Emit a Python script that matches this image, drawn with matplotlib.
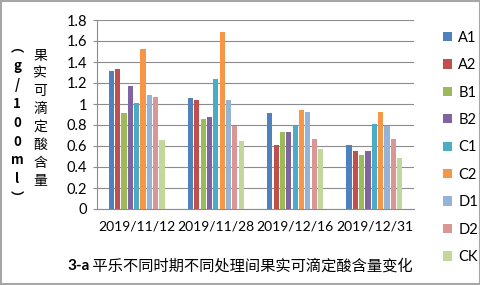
import matplotlib.pyplot as plt
import numpy as np
from matplotlib.patches import Rectangle

plt.rcParams['font.family'] = ['Lato', 'Noto Sans CJK SC', 'DejaVu Sans']

dates = ['2019/11/12', '2019/11/28', '2019/12/16', '2019/12/31']
treatments = ['A1', 'A2', 'B1', 'B2', 'C1', 'C2', 'D1', 'D2', 'CK']
colors = ['#4F81BD', '#C0504D', '#9BBB59', '#8064A2', '#4BACC6',
          '#F79646', '#95B3D7', '#D99694', '#C3D69B']

A1 = [1.31, 1.06, 0.91, 0.61]
A2 = [1.33, 1.04, 0.61, 0.55]
B1 = [0.91, 0.86, 0.73, 0.51]
B2 = [1.17, 0.88, 0.73, 0.55]
C1 = [1.01, 1.24, 0.79, 0.81]
C2 = [1.52, 1.69, 0.94, 0.92]
D1 = [1.09, 1.04, 0.92, 0.79]
D2 = [1.07, 0.79, 0.67, 0.67]
CK = [0.66, 0.65, 0.57, 0.49]
series = [A1, A2, B1, B2, C1, C2, D1, D2, CK]

fig = plt.figure(figsize=(4.81, 2.85), dpi=100)
ax = fig.add_axes([97 / 481, 1 - 209 / 285, 317 / 481, 189 / 285])

x = np.arange(len(dates))
step = 0.08
for i, (name, vals) in enumerate(zip(treatments, series)):
    ax.bar(x + (i - 4) * step, vals, width=step * 0.82, color=colors[i],
           label=name, zorder=3)

ax.set_ylim(0, 1.8)
ax.set_xlim(-0.5, 3.5)
ax.set_yticks(np.arange(0, 1.81, 0.2))
ax.set_yticklabels(['0', '0.2', '0.4', '0.6', '0.8', '1', '1.2', '1.4', '1.6', '1.8'])
ax.set_xticks(x)
ax.set_xticklabels(dates)
ax.yaxis.grid(True, color='#8c8c8c', linewidth=0.8, zorder=0)
for s in ['top', 'right']:
    ax.spines[s].set_visible(False)
ax.spines['left'].set_color('#8c8c8c')
ax.spines['bottom'].set_color('#8c8c8c')
ax.tick_params(axis='y', length=3, color='#8c8c8c', labelsize=10.5, pad=4)
ax.tick_params(axis='x', length=0, labelsize=10, pad=8)

# legend on the right
fig.legend(loc='center left', bbox_to_anchor=(430 / 481, 0.483), frameon=False,
           handlelength=0.6, handleheight=0.6, handletextpad=0.45,
           labelspacing=0.92, fontsize=10.5)

# vertical y label, two columns
fig.text(17 / 481, 0.57, '\n'.join('︵g/100ml︶'), ha='center', va='center',
         fontsize=9.5, fontweight='bold', linespacing=1.45,
         family=['Noto Sans CJK SC'])
fig.text(40 / 481, 0.585, '\n'.join('果实可滴定酸含量'), ha='center', va='center',
         fontsize=10, linespacing=1.35, family=['Noto Sans CJK SC'])

# bottom title
t1 = fig.text(67 / 481, 1 - 266 / 285, '3-a', ha='left', va='center',
              fontsize=11, fontweight='bold')
ax.annotate(' 平乐不同时期不同处理间果实可滴定酸含量变化', xy=(1, 0.5),
            xycoords=t1, ha='left', va='center', fontsize=11,
            family=['Noto Sans CJK SC'])

fig.patches.append(Rectangle((0.002, 0.003), 0.995, 0.993, transform=fig.transFigure,
                             fill=False, edgecolor='#a6a6a6', linewidth=1.5))

fig.savefig('out.png', dpi=100)
